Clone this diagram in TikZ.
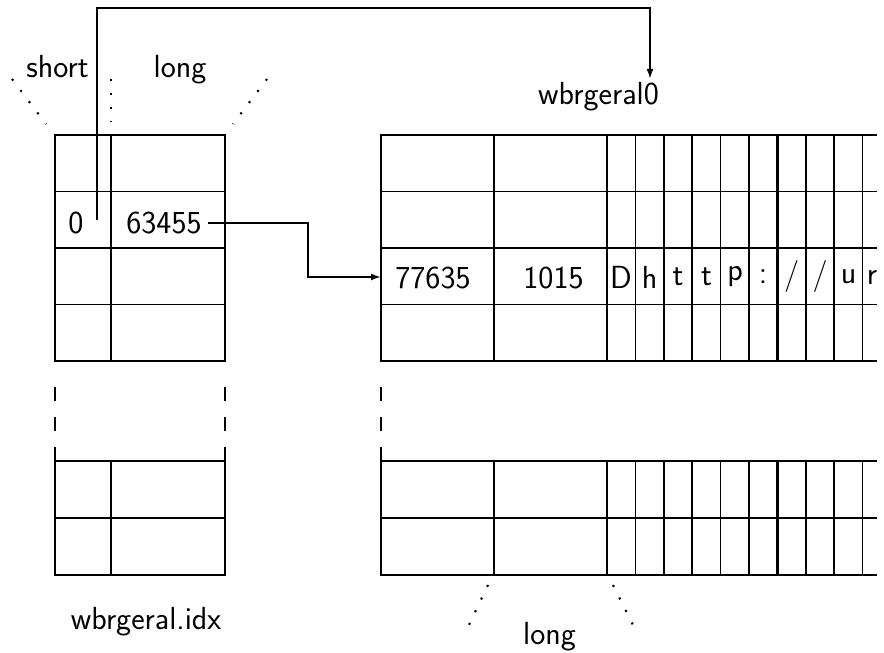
\documentclass[tikz,border=0pt]{standalone}
\usetikzlibrary{arrows.meta}
\tikzset{
  grid/.style={line width=1.05pt, draw=black},
  heavy/.style={line width=1.6pt, draw=black},
  gap/.style={grid, dash pattern=on 2.8mm off 3.2mm},
  dots/.style={line width=1.2pt, dash pattern=on 0.4mm off 2.4mm},
  flow/.style={-{Latex[length=2mm, width=1.4mm]}, line width=1.05pt, draw=black},
  cell/.style={font=\sffamily\fontsize{18.2}{21}\selectfont},
  glyph/.style={cell, anchor=center},
  caption/.style={cell, anchor=base, inner sep=2pt}
}
\begin{document}
\begin{tikzpicture}
\useasboundingbox (0,0) rectangle (17.68,13.04);

% index file
\draw[grid] (1.10,5.82) rectangle (4.50,10.34);
\draw[grid] (1.10,9.21) -- (4.50,9.21) (1.10,6.95) -- (4.50,6.95);
\draw[heavy] (1.10,8.08) -- (4.50,8.08) (2.22,5.82) -- (2.22,10.34);
\draw[grid] (1.10,1.54) rectangle (4.50,3.82);
\draw[grid] (1.10,2.68) -- (4.50,2.68);
\draw[heavy] (2.22,1.54) -- (2.22,3.82);
\draw[gap] (1.10,3.82) -- (1.10,5.30) (4.50,3.82) -- (4.50,5.30);

% data file, upper rows
\draw[grid] (17.54,10.34) -- (7.62,10.34) -- (7.62,5.82) -- (17.54,5.82);
\draw[grid] (7.62,9.21) -- (17.54,9.21) (7.62,6.95) -- (17.54,6.95);
\draw[heavy] (7.62,8.08) -- (17.54,8.08);
\draw[grid] (9.88,5.82) -- (9.88,10.34) (12.71,5.82) -- (12.71,10.34) (13.28,5.82) -- (13.28,10.34);
\draw[grid] (14.41,5.82) -- (14.41,10.34) (14.98,5.82) -- (14.98,10.34);
\draw[grid] (16.12,5.82) -- (16.12,10.34) (16.68,5.82) -- (16.68,10.34) (17.25,5.82) -- (17.25,10.34);
\draw[heavy] (12.14,5.82) -- (12.14,10.34) (13.84,5.82) -- (13.84,10.34) (15.55,5.82) -- (15.55,10.34);

% data file, lower rows
\draw[grid] (17.54,3.82) -- (7.62,3.82) -- (7.62,1.54) -- (17.54,1.54);
\draw[grid] (7.62,2.68) -- (17.54,2.68);
\draw[grid] (9.88,1.54) -- (9.88,3.82) (12.71,1.54) -- (12.71,3.82) (13.28,1.54) -- (13.28,3.82);
\draw[grid] (14.41,1.54) -- (14.41,3.82) (14.98,1.54) -- (14.98,3.82);
\draw[grid] (16.12,1.54) -- (16.12,3.82) (16.68,1.54) -- (16.68,3.82) (17.25,1.54) -- (17.25,3.82);
\draw[heavy] (12.14,1.54) -- (12.14,3.82) (13.84,1.54) -- (13.84,3.82) (15.55,1.54) -- (15.55,3.82);
\draw[gap] (7.62,3.82) -- (7.62,5.30);

% field widths
\node[caption] (short) at (1.15,11.48) {short};
\node[caption] (longidx) at (3.60,11.48) {long};
\draw[dots] (0.24,11.46) -- (0.92,10.56);
\draw[dots] (2.22,11.46) -- (2.22,10.60);
\draw[dots] (5.34,11.46) -- (4.66,10.56);
\node[caption] (longdat) at (10.99,0.16) {long};
\draw[dots] (9.76,1.34) -- (9.32,0.42);
\draw[dots] (12.26,1.34) -- (12.72,0.42);

% file names
\node[caption] (fidx) at (2.92,0.46) {wbrgeral.idx};
\node[caption] (fname) at (11.97,10.94) {wbrgeral0};

% cell contents
\node[cell] (zero) at (1.52,8.58) {0};
\node[cell] (off) at (3.28,8.58) {63455};
\node[cell] (rec) at (8.66,7.48) {77635};
\node[cell] (len) at (11.07,7.48) {1015};
\node[glyph] (g1) at (12.42,7.50) {D};
\node[glyph] (g2) at (12.99,7.50) {h};
\node[glyph] (g3) at (13.56,7.50) {t};
\node[glyph] (g4) at (14.13,7.50) {t};
\node[glyph] (g5) at (14.70,7.50) {p};
\node[glyph] (g6) at (15.26,7.50) {:};
\node[glyph] (g7) at (15.83,7.50) {/};
\node[glyph] (g8) at (16.40,7.50) {/};
\node[glyph] (g9) at (16.97,7.50) {u};
\node[glyph] (g10) at (17.44,7.50) {r};

% pointers
\coordinate (ptr) at (1.94,8.64);
\coordinate (top) at (13.00,12.88);
\coordinate (recin) at (7.62,7.50);
\draw[flow] (ptr) |- (top) -- (top |- fname.north);
\draw[flow] (off.east) -- ++(2.0,0) |- (recin);

\end{tikzpicture}
\end{document}
